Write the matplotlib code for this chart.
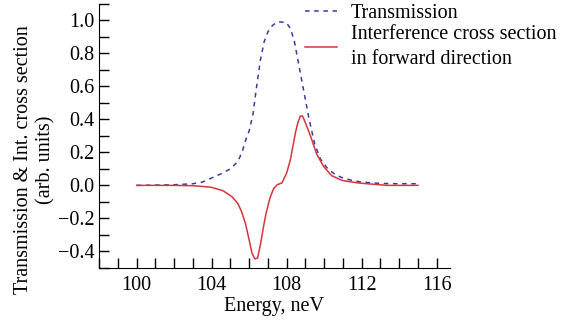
import numpy as np
import matplotlib
matplotlib.use('Agg')
import matplotlib.pyplot as plt
from matplotlib.ticker import MultipleLocator

plt.rcParams['font.family'] = ['Liberation Serif', 'DejaVu Serif']
plt.rcParams['font.size'] = 14.5

# Transmission (blue dashed)
e_tr = [100, 101, 102, 103, 103.5, 104, 104.5, 105, 105.4, 105.65, 105.8, 106.0,
        106.2, 106.4, 106.6, 106.8, 107.0, 107.25, 107.5, 107.75, 108.0, 108.2,
        108.4, 108.6, 108.8, 109.0, 109.2, 109.5, 109.8, 110.2, 110.6, 111.0,
        111.5, 112, 113, 114, 115]
tr = [0, 0.002, 0.004, 0.01, 0.02, 0.045, 0.07, 0.1, 0.145, 0.21, 0.27, 0.33,
      0.43, 0.6, 0.76, 0.87, 0.93, 0.97, 0.99, 0.99, 0.985, 0.95,
      0.88, 0.76, 0.64, 0.52, 0.40, 0.25, 0.16, 0.1, 0.065, 0.045,
      0.03, 0.02, 0.012, 0.01, 0.01]

# Interference cross section (red solid)
e_int = [100, 101, 102, 103, 103.5, 104, 104.6, 105.1, 105.4, 105.6, 105.8, 106.0,
         106.15, 106.3, 106.45, 106.6, 106.75, 106.9, 107.1, 107.3, 107.5, 107.75,
         108.0, 108.2, 108.47, 108.6, 108.73, 108.85, 109.0, 109.27, 109.6, 109.97,
         110.4, 110.96, 111.8, 112.5, 113.4, 114, 115]
intf = [0, 0, 0, -0.002, -0.006, -0.012, -0.032, -0.07, -0.11, -0.16, -0.23, -0.33,
        -0.41, -0.445, -0.44, -0.36, -0.26, -0.17, -0.08, -0.02, 0.004, 0.015,
        0.075, 0.155, 0.32, 0.38, 0.42, 0.42, 0.38, 0.30, 0.19, 0.115,
        0.059, 0.03, 0.015, 0.008, 0.0, 0.0, 0.0]

fig = plt.figure(figsize=(5.7, 3.22), dpi=100)
ax = fig.add_axes([0.174, 0.168, 0.615, 0.820])

l1, = ax.plot(e_tr, tr, '--', color='#3a3aa0', lw=1.1, dashes=(3, 3))
l2, = ax.plot(e_int, intf, '-', color='#d8343c', lw=1.1)

ax.set_xlim(98, 116.7)
ax.set_ylim(-0.5, 1.1)
ax.xaxis.set_major_locator(MultipleLocator(4))
ax.xaxis.set_minor_locator(MultipleLocator(1))
ax.yaxis.set_minor_locator(MultipleLocator(0.1))
ax.set_yticks(np.arange(-0.4, 1.01, 0.2))
ax.tick_params(which='both', direction='in', length=7, width=1)
ax.tick_params(axis='x', pad=6)
ax.spines['top'].set_visible(False)
ax.spines['right'].set_visible(False)
ax.set_xlabel('Energy, neV', labelpad=1)
ax.set_ylabel('Transmission & Int. cross section\n(arb. units)', linespacing=1.25)
ax.yaxis.set_label_coords(-0.125, 0.41)

leg = fig.legend([l1, l2], ['Transmission', 'Interference cross section\nin forward direction'],
                 loc='upper left', bbox_to_anchor=(0.503, 1.045), frameon=False,
                 handlelength=1.6, handletextpad=0.7, labelspacing=0.1)
plt.setp(leg.get_texts(), linespacing=1.45)

plt.savefig('out.png')
